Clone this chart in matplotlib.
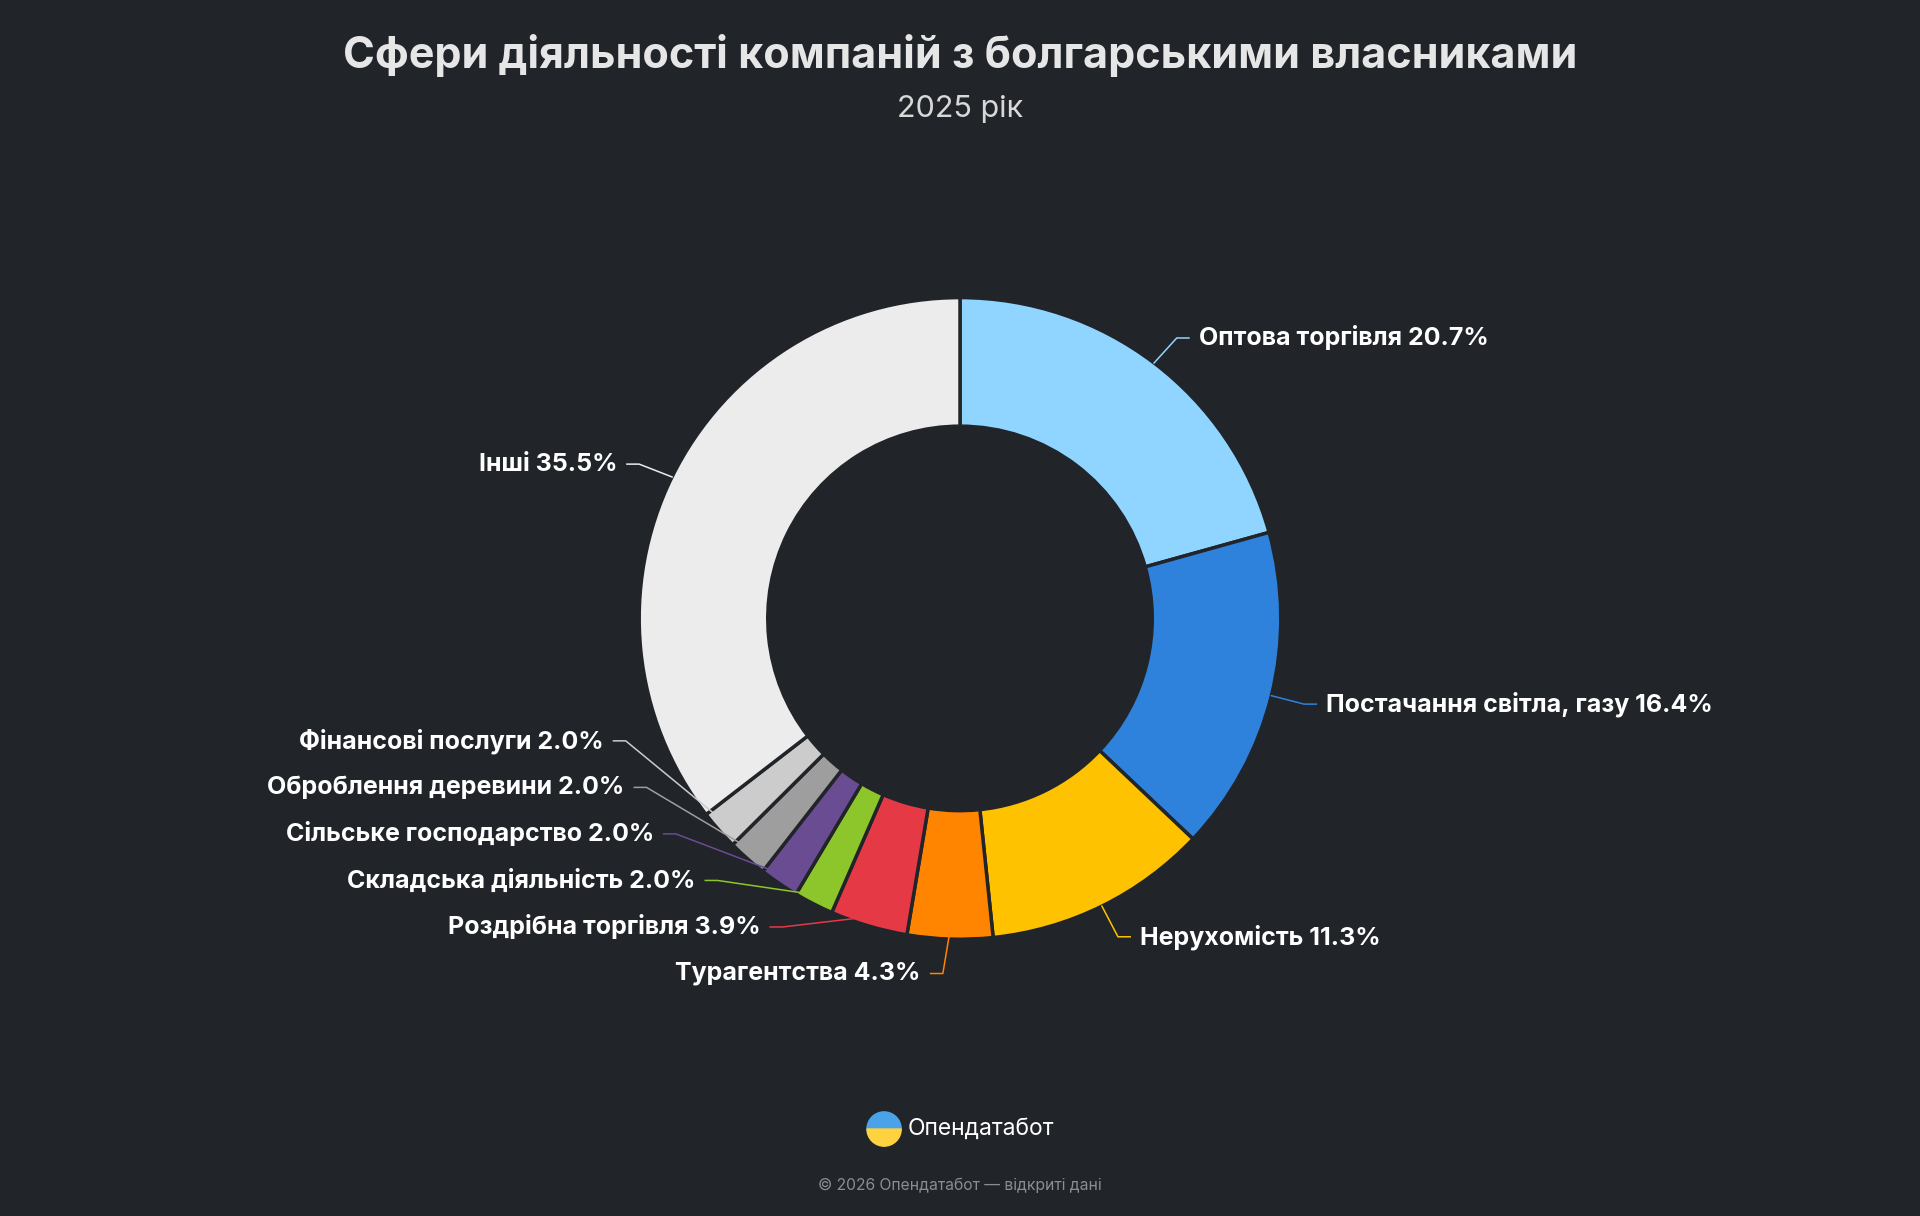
import matplotlib
matplotlib.use('Agg')
import matplotlib.pyplot as plt
import numpy as np
from matplotlib.patches import Wedge

plt.rcParams['font.family'] = ['Inter', 'DejaVu Sans']

labels = ['Оптова торгівля', 'Постачання світла, газу', 'Нерухомість', 'Турагентства',
          'Роздрібна торгівля', 'Складська діяльність', 'Сільське господарство',
          'Оброблення деревини', 'Фінансові послуги', 'Інші']
values = [20.7, 16.4, 11.3, 4.3, 3.9, 2.0, 2.0, 2.0, 2.0, 35.5]
colors = ['#8fd5ff', '#2e82dc', '#ffc200', '#ff8400', '#e63946', '#8dc62a',
          '#6a4c93', '#9e9e9e', '#cccccc', '#ececec']
# label text anchor positions (reference pixel coords, y down) and alignment
label_pos = [(979, 276, 'left'), (1083, 575, 'left'), (931, 765, 'left'), (752, 795, 'right'),
             (621, 757, 'right'), (568, 719, 'right'), (534, 681, 'right'),
             (510, 643, 'right'), (493, 605, 'right'), (504, 379, 'right')]

BG = '#212429'
W, H = 1568, 993
fig = plt.figure(figsize=(19.2, 12.16), dpi=100, facecolor=BG)
ax = fig.add_axes([0, 0, 1, 1])
ax.set_facecolor(BG)

cx, cy = 784, H - 505
R, wid = 262, 105
wedges, _ = ax.pie(values, colors=colors, startangle=90, counterclock=False,
                   radius=R, center=(cx, cy), frame=True,
                   wedgeprops=dict(width=wid, edgecolor=BG, linewidth=2.5, joinstyle='round'))
ax.set_xlim(0, W)
ax.set_ylim(0, H)
ax.set_aspect('equal')
ax.axis('off')

for w, lab, v, c, (tx, ty, ha) in zip(wedges, labels, values, colors, label_pos):
    ang = np.deg2rad((w.theta1 + w.theta2) / 2)
    rr = R - 8 if v < 5 else R
    x0, y0 = cx + rr * np.cos(ang), cy + rr * np.sin(ang)
    ty2 = H - ty
    s = 1 if ha == 'left' else -1
    ax.plot([x0, tx - s * 18, tx - s * 8], [y0, ty2, ty2], color=c, lw=1.1)
    ax.text(tx, ty2, f'{lab} {v:.1f}%', ha=ha, va='center', color='white',
            fontsize=18, fontweight='bold')

fig.text(0.5, 1 - 45 / H, 'Сфери діяльності компаній з болгарськими власниками',
         ha='center', va='center', color='#e6e6e6', fontsize=31, fontweight='bold')
fig.text(0.5, 1 - 89 / H, '2025 рік', ha='center', va='center', color='#d8d8d8', fontsize=22)

# footer logo
ax.add_patch(Wedge((722, H - 922), 14, 0, 180, color='#4aa3e8'))
ax.add_patch(Wedge((722, H - 922), 14, 180, 360, color='#ffd23f'))
ax.text(741, H - 922, 'Опендатабот', ha='left', va='center', color='white', fontsize=16.5)
ax.text(784, H - 968, '© 2026 Опендатабот — відкриті дані', ha='center', va='center',
        color='#8a8d93', fontsize=11.3)

fig.savefig('out.png', dpi=100, facecolor=BG)
